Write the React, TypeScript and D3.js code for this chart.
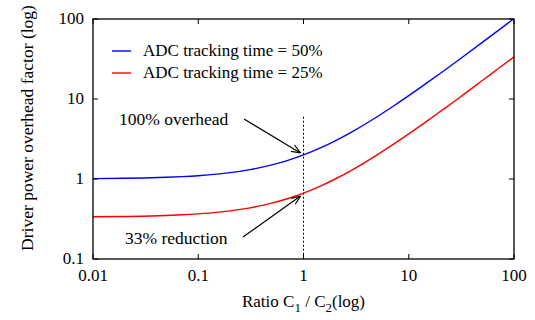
import React from "react";
import * as d3 from "d3";

// ratio C1/C2 samples and read-off overhead factors
const ratios = [0.01, 0.02, 0.03, 0.05, 0.07, 0.1, 0.15, 0.2, 0.3, 0.5, 0.7, 1, 1.5, 2, 3, 5, 7, 10, 15, 20, 30, 50, 70, 100];
const track50 = [1.01, 1.02, 1.03, 1.05, 1.07, 1.1, 1.15, 1.2, 1.3, 1.5, 1.7, 2, 2.5, 3, 4, 6, 8, 11, 16, 21, 31, 51, 71, 101];
const track25 = [0.337, 0.34, 0.343, 0.35, 0.357, 0.367, 0.383, 0.4, 0.433, 0.5, 0.567, 0.667, 0.833, 1, 1.33, 2, 2.67, 3.67, 5.33, 7, 10.3, 17, 23.7, 33.7];
const seriesNames = ["ADC tracking time = 50%", "ADC tracking time = 25%"];
const xTicks = [0.01, 0.1, 1, 10, 100];
const yTicks = [0.1, 1, 10, 100];
const tickLabel = (v: number) => String(v);

const W = 535, H = 320;
const m = { left: 93, right: 21, top: 19, bottom: 61 };
const font = "'Liberation Serif', 'DejaVu Serif', 'Noto Serif', Tinos, 'Times New Roman', Times, serif";

export default function App() {
  const x = d3.scaleLog().domain([0.01, 100]).range([m.left, W - m.right]);
  const y = d3.scaleLog().domain([0.1, 100]).range([H - m.bottom, m.top]);
  const line = d3.line<[number, number]>()
    .x((d) => x(d[0]))
    .y((d) => y(d[1]))
    .curve(d3.curveMonotoneX);
  const series = [
    { name: seriesNames[0], color: "#0000ff", vals: track50 },
    { name: seriesNames[1], color: "#ff0000", vals: track25 },
  ];
  const x0 = m.left, x1 = W - m.right, y0 = H - m.bottom, y1 = m.top;
  const tk = 5;

  return (
    <svg width={W} height={H} style={{ position: "absolute", left: 0, top: 0, background: "#fff", fontFamily: font }}>
      <defs>
        <clipPath id="plot">
          <rect x={x0} y={y1} width={x1 - x0} height={y0 - y1} />
        </clipPath>
        <marker id="arr" viewBox="0 0 10 10" refX="10" refY="5" markerWidth="9" markerHeight="9"
          orient="auto" markerUnits="userSpaceOnUse">
          <path d="M0,1 L10,5 L0,9" fill="none" stroke="#000" strokeWidth={1.3} />
        </marker>
      </defs>

      {/* curves */}
      <g clipPath="url(#plot)">
        {series.map((s) => (
          <path key={s.name} d={line(ratios.map((r, i) => [r, s.vals[i]] as [number, number])) || ""}
            fill="none" stroke={s.color} strokeWidth={1.4} />
        ))}
      </g>

      {/* dotted marker at ratio 1 */}
      <line x1={x(1)} x2={x(1)} y1={y(6)} y2={y0} stroke="#000" strokeWidth={1} strokeDasharray="2,2" />

      {/* frame */}
      <rect x={x0} y={y1} width={x1 - x0} height={y0 - y1} fill="none" stroke="#000" strokeWidth={1.3} />

      {/* ticks (inward, all four sides) */}
      {xTicks.map((t) => (
        <g key={"x" + t}>
          <line x1={x(t)} x2={x(t)} y1={y0} y2={y0 - tk} stroke="#000" />
          <line x1={x(t)} x2={x(t)} y1={y1} y2={y1 + tk} stroke="#000" />
          <text x={x(t)} y={y0 + 22} textAnchor="middle" fontSize={17}>{tickLabel(t)}</text>
        </g>
      ))}
      {yTicks.map((t) => (
        <g key={"y" + t}>
          <line x1={x0} x2={x0 + tk} y1={y(t)} y2={y(t)} stroke="#000" />
          <line x1={x1} x2={x1 - tk} y1={y(t)} y2={y(t)} stroke="#000" />
          <text x={x0 - 9} y={y(t) + 5} textAnchor="end" fontSize={17}>{tickLabel(t)}</text>
        </g>
      ))}

      {/* axis titles */}
      <text x={(x0 + x1) / 2} y={307} textAnchor="middle" fontSize={17}>
        Ratio C<tspan dy={5} fontSize={13}>1</tspan><tspan dy={-5}> / C</tspan>
        <tspan dy={5} fontSize={13}>2</tspan><tspan dy={-5}>(log)</tspan>
      </text>
      <text transform="translate(33,128) rotate(-90)" textAnchor="middle" fontSize={17.5}>
        Driver power overhead factor (log)
      </text>

      {/* legend */}
      {series.map((s, i) => (
        <g key={"lg" + i} transform={`translate(112,${51 + i * 22})`}>
          <line x1={0} x2={19} y1={0} y2={0} stroke={s.color} strokeWidth={1.4} />
          <text x={31} y={5} fontSize={17}>{s.name}</text>
        </g>
      ))}

      {/* annotations */}
      <text x={119} y={125} fontSize={17.5}>100% overhead</text>
      <line x1={244} y1={119} x2={x(1) - 3} y2={y(2) - 2} stroke="#000" strokeWidth={1.2} markerEnd="url(#arr)" />
      <text x={125} y={244} fontSize={17.5}>33% reduction</text>
      <line x1={243} y1={237} x2={x(1) - 3} y2={y(0.667) + 3} stroke="#000" strokeWidth={1.2} markerEnd="url(#arr)" />
    </svg>
  );
}
